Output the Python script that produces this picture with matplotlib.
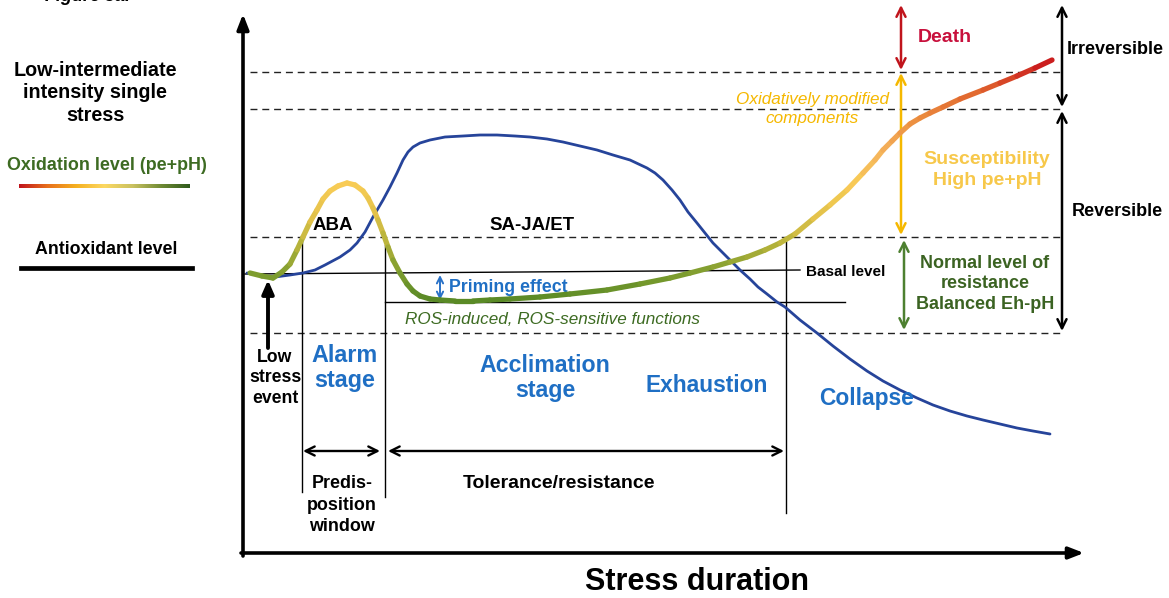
import numpy as np
import matplotlib
matplotlib.use("Agg")
import matplotlib.pyplot as plt
from matplotlib.collections import LineCollection
from matplotlib.colors import LinearSegmentedColormap, Normalize

plt.rcParams['font.family'] = ['Liberation Sans', 'DejaVu Sans']

# ---------------- data (schematic; pixel-like units, y downwards) ----
antiox_x = [247, 262, 275, 290, 303, 315, 325, 340, 350, 357, 365, 373, 383, 390, 397, 403, 408, 413,
            420, 430, 445, 463, 480, 497, 515, 530, 547, 563, 580, 597, 613, 630, 647, 655, 663, 672,
            680, 688, 697, 705, 713, 722, 730, 740, 750, 758, 767, 777, 785, 800, 817, 833, 850, 867,
            883, 900, 917, 933, 950, 967, 983, 1000, 1017, 1033, 1050]
antiox_y = [273, 276, 277, 275, 273, 270, 265, 257, 250, 243, 232, 217, 200, 187, 173, 160, 152, 147,
            143, 140, 137, 136, 135, 135, 136, 137, 139, 142, 146, 150, 155, 160, 168, 173, 180, 190,
            200, 212, 223, 233, 243, 252, 260, 270, 279, 287, 294, 302, 307, 320, 333, 346, 359, 371,
            381, 390, 398, 405, 411, 416, 420, 424, 428, 431, 434]

oxid_x = [250, 262, 273, 282, 290, 297, 303, 310, 317, 323, 330, 338, 347, 355, 363, 368, 373, 378,
          383, 388, 393, 400, 407, 413, 420, 430, 440, 455, 473, 490, 510, 540, 570, 607, 640, 670,
          690, 713, 730, 747, 765, 780, 795, 813, 830, 847, 863, 875, 883, 892, 900, 910, 920, 930,
          943, 960, 983, 1000, 1017, 1035, 1052]
oxid_y = [273, 276, 278, 272, 264, 250, 237, 222, 210, 199, 191, 186, 183, 185, 191, 198, 208, 220,
          233, 247, 260, 273, 284, 291, 296, 299, 300, 301, 301, 300, 299, 297, 294, 290, 284, 278,
          273, 267, 262, 257, 250, 243, 234, 219, 205, 190, 173, 160, 150, 141, 133, 124, 118, 113,
          107, 99, 90, 83, 76, 68, 60]

# oxidation colour scale: level (y) -> colour
oxid_levels = [60, 90, 120, 150, 185, 215, 240, 270, 300]
oxid_colors = ['#c8141c', '#e0642e', '#ec8f40', '#f4b25c', '#f8cc55', '#e3c24a', '#bdb53c',
               '#84a030', '#5a8a26']
legend_colors = ['#c0141c', '#e8701c', '#f5b020', '#fcd862', '#c9c160', '#6f8a34', '#2f5a1c']

dashed_levels = [72, 109, 237, 333]
basal_level = 272
primed_level = 302
phase_bounds = [302, 385, 786]

# ---------------- figure ----------------
fig = plt.figure(figsize=(11.69, 5.98), dpi=100)
ax = fig.add_axes([0, 0, 1, 1])
ax.set_xlim(0, 1169)
ax.set_ylim(598, 0)
ax.axis('off')

BLUE_TXT = '#1f6fc4'
NAVY = '#26449a'
DKGREEN = '#3b6322'

# axes arrows
ax.annotate('', xy=(243, 14), xytext=(243, 556),
            arrowprops=dict(arrowstyle='-|>,head_length=0.9,head_width=0.35', lw=2.6, color='black',
                            shrinkA=0, shrinkB=0))
ax.annotate('', xy=(1084, 553), xytext=(241, 553),
            arrowprops=dict(arrowstyle='-|>,head_length=0.9,head_width=0.35', lw=2.6, color='black',
                            shrinkA=0, shrinkB=0))
ax.text(697, 582, 'Stress duration', ha='center', va='center', fontsize=22, fontweight='bold')

# dashed levels
for lv in dashed_levels:
    ax.plot([250, 1062], [lv, lv], color='#222222', lw=1.0, ls=(0, (5, 3.5)))

# basal & primed levels
ax.plot([245, 800], [basal_level + 2, basal_level - 2], color='black', lw=1.0)
ax.plot([385, 845], [primed_level, primed_level], color='black', lw=1.0)
ax.text(806, 272, 'Basal level', ha='left', va='center', fontsize=11, fontweight='bold')

# phase boundaries
ax.plot([phase_bounds[0]] * 2, [237, 492], color='black', lw=1.0)
ax.plot([phase_bounds[1]] * 2, [245, 497], color='black', lw=1.0)
ax.plot([phase_bounds[2]] * 2, [240, 513], color='black', lw=1.0)

# antioxidant (blue) curve
ax.plot(antiox_x, antiox_y, color=NAVY, lw=2.0, solid_joinstyle='round', solid_capstyle='round',
        zorder=3)

# oxidation curve with gradient
cmap_y = LinearSegmentedColormap.from_list(
    'oxy', list(zip((np.array(oxid_levels) - 60) / 240.0, oxid_colors)))
pts = np.column_stack([oxid_x, oxid_y])
segs = np.stack([pts[:-1], pts[1:]], axis=1)
mid_y = (pts[:-1, 1] + pts[1:, 1]) / 2
lc = LineCollection(segs, cmap=cmap_y, norm=Normalize(60, 300), linewidths=3.8,
                    capstyle='round', joinstyle='round', zorder=4)
lc.set_array(mid_y)
ax.add_collection(lc)

# double arrows helper
def darrow(x0, y0, x1, y1, color, lw=1.8, ms=13):
    ax.annotate('', xy=(x1, y1), xytext=(x0, y0),
                arrowprops=dict(arrowstyle='<->,head_length=0.5,head_width=0.25', lw=lw,
                                color=color, shrinkA=0, shrinkB=0, mutation_scale=ms))

darrow(901, 5, 901, 70, '#c0141c')
darrow(901, 73, 901, 235, '#f5b800')
darrow(904, 240, 904, 330, '#4d8030')
darrow(1062, 5, 1062, 107, 'black')
darrow(1062, 111, 1062, 331, 'black')
darrow(440, 275, 440, 300, '#2a72c8', lw=1.4, ms=9)
darrow(303, 451, 380, 451, 'black', lw=1.7)
darrow(388, 451, 784, 451, 'black', lw=1.7)

# low stress event arrow
ax.annotate('', xy=(268, 280), xytext=(268, 348),
            arrowprops=dict(arrowstyle='-|>,head_length=0.8,head_width=0.35', lw=2.8,
                            color='black', shrinkA=0, shrinkB=0))

# right side labels
ax.text(945, 37, 'Death', ha='center', va='center', fontsize=14, fontweight='bold', color='#c8103c')
ax.text(1115, 50, 'Irreversible', ha='center', va='center', fontsize=13, fontweight='bold')
ax.text(1117, 211, 'Reversible', ha='center', va='center', fontsize=13, fontweight='bold')
ax.text(812, 109, 'Oxidatively modified\ncomponents', ha='center', va='center', fontsize=12.3,
        style='italic', color='#f5b800', linespacing=1.3)
ax.text(987, 170, 'Susceptibility\nHigh pe+pH', ha='center', va='center', fontsize=14,
        fontweight='bold', color='#f7c84a', linespacing=1.32)
ax.text(985, 284, 'Normal level of\nresistance\nBalanced Eh-pH', ha='center', va='center',
        fontsize=13, fontweight='bold', color=DKGREEN, linespacing=1.3)

# inner labels
ax.text(449, 287, 'Priming effect', ha='left', va='center', fontsize=12.8, fontweight='bold',
        color=BLUE_TXT)
ax.text(405, 319, 'ROS-induced, ROS-sensitive functions', ha='left', va='center', fontsize=12.3,
        style='italic', color='#3d6b22')
ax.text(333, 225, 'ABA', ha='center', va='center', fontsize=13.4, fontweight='bold')
ax.text(532, 226, 'SA-JA/ET', ha='center', va='center', fontsize=13.4, fontweight='bold')

ax.text(275, 378, 'Low\nstress\nevent', ha='center', va='center', fontsize=12.7, fontweight='bold',
        linespacing=1.3)
ax.text(345, 368, 'Alarm\nstage', ha='center', va='center', fontsize=16.8, fontweight='bold',
        color=BLUE_TXT, linespacing=1.15)
ax.text(545, 378, 'Acclimation\nstage', ha='center', va='center', fontsize=16.7, fontweight='bold',
        color=BLUE_TXT, linespacing=1.15)
ax.text(707, 385, 'Exhaustion', ha='center', va='center', fontsize=16.4, fontweight='bold',
        color=BLUE_TXT)
ax.text(867, 398, 'Collapse', ha='center', va='center', fontsize=16.4, fontweight='bold',
        color=BLUE_TXT)
ax.text(342, 505, 'Predis-\nposition\nwindow', ha='center', va='center', fontsize=12.9,
        fontweight='bold', linespacing=1.35)
ax.text(559, 483, 'Tolerance/resistance', ha='center', va='center', fontsize=14, fontweight='bold')

# left legend
ax.text(45, 1, 'Figure 3a.', ha='left', va='baseline', fontsize=13, fontweight='bold', style='italic')
ax.text(95, 93, 'Low-intermediate\nintensity single\nstress', ha='center', va='center',
        fontsize=14.2, fontweight='bold', linespacing=1.25)
ax.text(107, 165, 'Oxidation level (pe+pH)', ha='center', va='center', fontsize=12.9,
        fontweight='bold', color='#3d6b22')
cmap_leg = LinearSegmentedColormap.from_list('leg', legend_colors)
grad = np.linspace(0, 1, 256)[None, :]
ax.imshow(grad, cmap=cmap_leg, extent=[19, 190, 188, 184], aspect='auto', interpolation='bilinear')
ax.text(106, 249, 'Antioxidant level', ha='center', va='center', fontsize=12.8, fontweight='bold')
ax.plot([21, 192], [268, 268], color='black', lw=3.4)

ax.set_xlim(0, 1169)
ax.set_ylim(598, 0)
fig.savefig('out.png', dpi=100)
